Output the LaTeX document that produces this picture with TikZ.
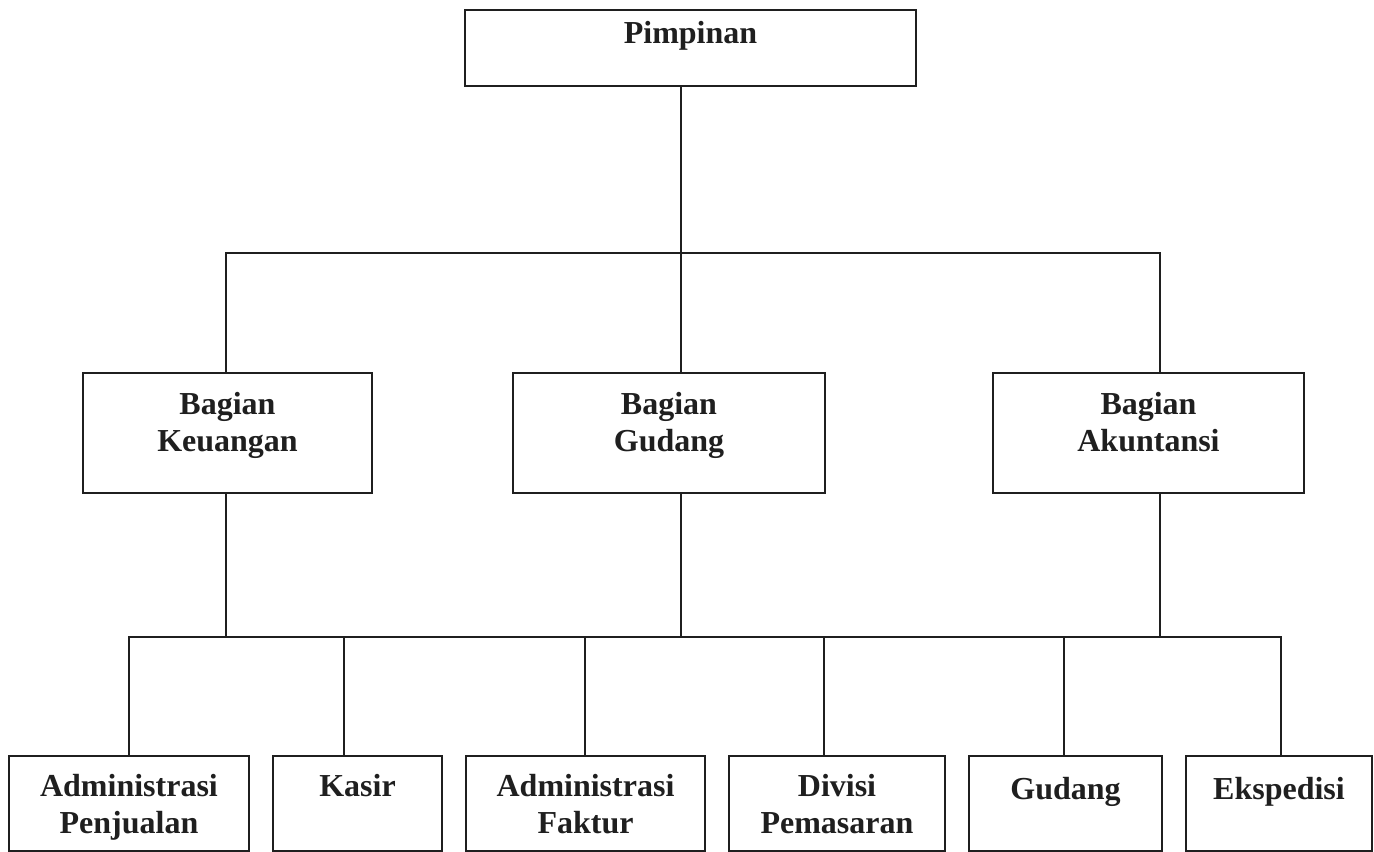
\documentclass[tikz,border=0pt]{standalone}
\usepackage{fontspec}
\setmainfont{Liberation Serif}
\usetikzlibrary{positioning}

% box text: width, height, first baseline, lines
\newcommand{\unittext}[4]{\parbox[c][#2][t]{#1}{\centering\rule{0pt}{#3}#4}}

\tikzset{
  unit/.style={draw, inner sep=0pt, outer sep=0pt,
    font=\bfseries\fontsize{16}{18.5}\selectfont},
}

\begin{document}
\begin{tikzpicture}[x=0.5pt, y=-0.5pt, node distance=12pt, line width=0.8pt, color=black!88]
  \clip (0,0) rectangle (1374,851);

  \node[unit] (pim) at (690.5,48) {\unittext{225.5pt}{38pt}{16.5pt}{Pimpinan}};

  \node[unit] (keu) at (227.5,433) {\unittext{144.5pt}{60pt}{20.5pt}{Bagian\\Keuangan}};
  \node[unit, right=70.5pt of keu] (gud) {\unittext{156pt}{60pt}{20.5pt}{Bagian\\Gudang}};
  \node[unit, right=84pt of gud] (aku) {\unittext{155.5pt}{60pt}{20.5pt}{Bagian\\Akuntansi}};

  \node[unit] (adm) at (129,803.5) {\unittext{120pt}{47.5pt}{20pt}{Administrasi\\Penjualan}};
  \node[unit, right=of adm] (kas) {\unittext{84.5pt}{47.5pt}{20pt}{Kasir}};
  \node[unit, right=of kas] (fak) {\unittext{119.5pt}{47.5pt}{20pt}{Administrasi\\Faktur}};
  \node[unit, right=of fak] (pem) {\unittext{108pt}{47.5pt}{20pt}{Divisi\\Pemasaran}};
  \node[unit, right=of pem] (gdg) {\unittext{96.5pt}{47.5pt}{21.5pt}{Gudang}};
  \node[unit, right=of gdg] (eks) {\unittext{93pt}{47.5pt}{21.5pt}{Ekspedisi}};

  \coordinate (b1) at (681,253);
  \coordinate (b2) at (681,637);

  \draw (pim.south -| b1) -- (b1);
  \draw ([xshift=-0.75pt]keu.north) |- (b1) -| ([xshift=5.75pt]aku.north);
  \draw (b1) -- (gud.north -| b1);

  \draw ([xshift=-0.75pt]keu.south) |- (b2) -| ([xshift=5.75pt]aku.south);
  \draw (gud.south -| b2) -- (b2);

  \draw (b2) -| (adm.north);
  \draw (b2) -| ([xshift=-6.75pt]kas.north);
  \draw (b2) -| ([xshift=-0.25pt]fak.north);
  \draw (b2) -| ([xshift=-6.5pt]pem.north);
  \draw (b2) -| ([xshift=-0.75pt]gdg.north);
  \draw (b2) -| ([xshift=1pt]eks.north);
\end{tikzpicture}
\end{document}
